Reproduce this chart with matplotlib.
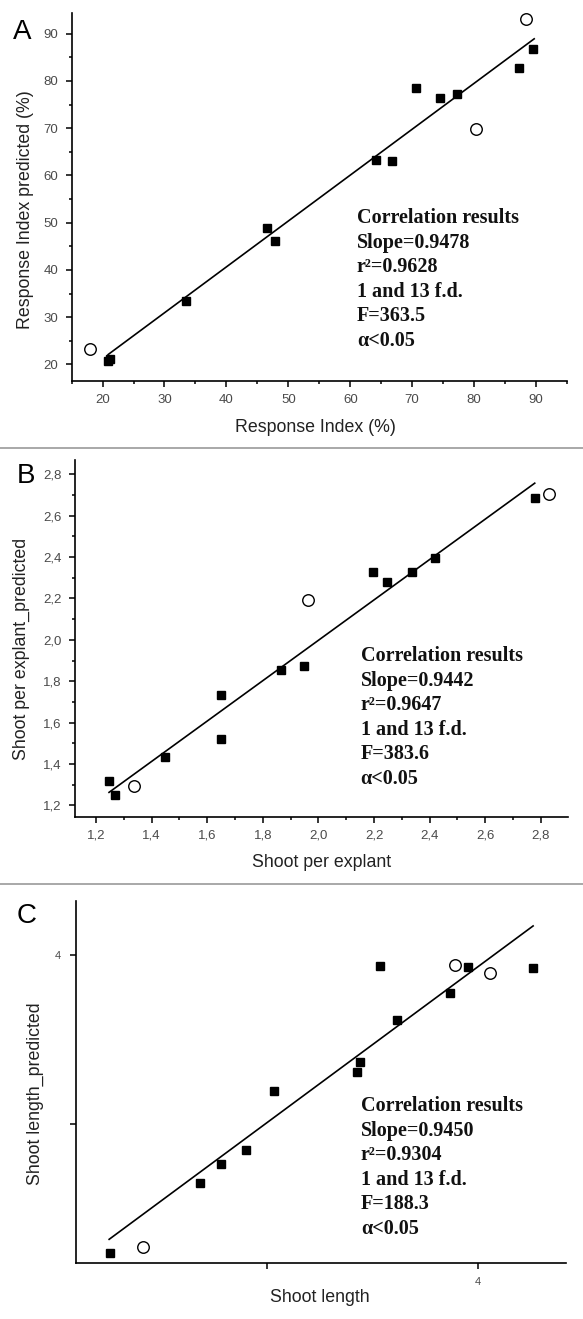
import matplotlib
matplotlib.use("Agg")
import matplotlib.pyplot as plt
from matplotlib.ticker import MultipleLocator, FixedLocator, FuncFormatter
from matplotlib.lines import Line2D

# ---------------- data ----------------
# Panel A
a_fill_x = [20.8, 21.2, 33.4, 46.6, 47.8, 64.2, 66.7, 70.6, 74.5, 77.2, 87.3, 89.5]
a_fill_y = [20.7, 21.1, 33.4, 48.9, 46.2, 63.3, 63.1, 78.6, 76.4, 77.3, 82.7, 86.8]
a_open_x = [17.9, 80.3, 88.4]
a_open_y = [23.3, 69.9, 93.1]
a_line_x = [20.9, 89.7]
a_line_y = [22.1, 88.9]
a_text = ["Correlation results", "Slope=0.9478", "r\u00b2=0.9628",
          "1 and 13 f.d.", "F=363.5", "\u03b1<0.05"]

# Panel B
b_fill_x = [1.247, 1.270, 1.447, 1.648, 1.648, 1.867, 1.948, 2.198, 2.246, 2.337, 2.418, 2.778]
b_fill_y = [1.318, 1.250, 1.435, 1.734, 1.520, 1.853, 1.872, 2.326, 2.278, 2.329, 2.397, 2.684]
b_open_x = [1.336, 1.962, 2.831]
b_open_y = [1.296, 2.193, 2.703]
b_line_x = [1.247, 2.778]
b_line_y = [1.263, 2.757]
b_text = ["Correlation results", "Slope=0.9442", "r\u00b2=0.9647",
          "1 and 13 f.d.", "F=383.6", "\u03b1<0.05"]

# Panel C
c_fill_x = [2.251, 2.681, 2.779, 2.897, 3.030, 3.425, 3.439, 3.536, 3.618, 3.867, 3.954, 4.264]
c_fill_y = [2.242, 2.655, 2.764, 2.846, 3.195, 3.309, 3.368, 3.935, 3.614, 3.778, 3.927, 3.923]
c_open_x = [2.411, 3.892, 4.057]
c_open_y = [2.274, 3.941, 3.896]
c_line_x = [2.248, 4.264]
c_line_y = [2.321, 4.171]
c_text = ["Correlation results", "Slope=0.9450", "r\u00b2=0.9304",
          "1 and 13 f.d.", "F=188.3", "\u03b1<0.05"]
c_ticks = [3, 4]
c_ticklabels = ["", "4"]

# ---------------- figure ----------------
W, H = 583, 1319
fig = plt.figure(figsize=(W / 100, H / 100), dpi=100)
sans = "Liberation Sans"
serif = "Liberation Serif"
tick_color = "#4a4a4a"
label_color = "#222222"


def style_axes(ax, labelsize=9.5, xpad=5, ypad=5.5):
    for s in ("top", "right"):
        ax.spines[s].set_visible(False)
    for s in ("left", "bottom"):
        ax.spines[s].set_linewidth(1.2)
        ax.spines[s].set_color("black")
    ax.tick_params(which="major", direction="out", length=4.3, width=1.1,
                   color="black", labelcolor=tick_color, labelsize=labelsize)
    ax.tick_params(axis="x", which="major", pad=xpad)
    ax.tick_params(axis="y", which="major", pad=ypad)
    ax.tick_params(which="minor", direction="out", length=2.5, width=1.1, color="black")
    for lab in ax.get_xticklabels() + ax.get_yticklabels():
        lab.set_fontfamily(sans)


def draw(ax, fx, fy, ox, oy, lx, ly, text, tx, ty):
    ax.plot(lx, ly, color="black", lw=1.2, zorder=2)
    ax.plot(fx, fy, ls="none", marker="s", ms=5.6, mfc="black", mec="black", zorder=3)
    ax.plot(ox, oy, ls="none", marker="o", ms=8.3, mfc="white", mec="black", mew=1.0, zorder=3)
    ax.text(tx, ty, "\n".join(text), transform=ax.transAxes, ha="left", va="top",
            fontfamily=serif, fontweight="bold", fontsize=14.5, linespacing=1.3,
            color="#111111")


def pos(l, r, top, bot):
    return [l / W, 1 - bot / H, (r - l) / W, (bot - top) / H]


LABEL_FS = 12.8

# Panel A
axA = fig.add_axes(pos(71.6, 567, 13.3, 381))
draw(axA, a_fill_x, a_fill_y, a_open_x, a_open_y, a_line_x, a_line_y, a_text, 0.576, 0.470)
axA.set_xlim(15, 95)
axA.set_ylim(16.5, 94.3)
axA.xaxis.set_major_locator(MultipleLocator(10))
axA.xaxis.set_minor_locator(MultipleLocator(5))
axA.yaxis.set_major_locator(MultipleLocator(10))
axA.yaxis.set_minor_locator(MultipleLocator(5))
style_axes(axA)
axA.set_xlabel("Response Index (%)", fontfamily=sans, fontsize=LABEL_FS, color=label_color)
axA.set_ylabel("Response Index predicted (%)", fontfamily=sans, fontsize=LABEL_FS, color=label_color)
axA.xaxis.set_label_coords(0.4925, -0.104)
axA.yaxis.set_label_coords(-0.075, 0.466)

# Panel B
axB = fig.add_axes(pos(75.1, 568.1, 460, 817))
draw(axB, b_fill_x, b_fill_y, b_open_x, b_open_y, b_line_x, b_line_y, b_text, 0.579, 0.478)
axB.set_xlim(1.125, 2.898)
axB.set_ylim(1.144, 2.869)
comma = FuncFormatter(lambda v, p: f"{v:.1f}".replace(".", ","))
axB.xaxis.set_major_locator(MultipleLocator(0.2))
axB.xaxis.set_minor_locator(MultipleLocator(0.1))
axB.yaxis.set_major_locator(MultipleLocator(0.2))
axB.yaxis.set_minor_locator(MultipleLocator(0.1))
axB.xaxis.set_major_formatter(comma)
axB.yaxis.set_major_formatter(comma)
style_axes(axB)
axB.set_xlabel("Shoot per explant", fontfamily=sans, fontsize=LABEL_FS, color=label_color)
axB.set_ylabel("Shoot per explant_predicted", fontfamily=sans, fontsize=LABEL_FS, color=label_color)
axB.xaxis.set_label_coords(0.499, -0.104)
axB.yaxis.set_label_coords(-0.092, 0.47)

# Panel C
axC = fig.add_axes(pos(75.5, 565.9, 900.7, 1262.7))
draw(axC, c_fill_x, c_fill_y, c_open_x, c_open_y, c_line_x, c_line_y, c_text, 0.582, 0.460)
axC.set_xlim(2.088, 4.42)
axC.set_ylim(2.183, 4.32)
axC.xaxis.set_major_locator(FixedLocator(c_ticks))
axC.yaxis.set_major_locator(FixedLocator(c_ticks))
axC.set_xticklabels(c_ticklabels)
axC.set_yticklabels(c_ticklabels)
style_axes(axC, labelsize=8, xpad=6, ypad=6)
axC.set_xlabel("Shoot length", fontfamily=sans, fontsize=LABEL_FS, color=label_color)
axC.set_ylabel("Shoot length_predicted", fontfamily=sans, fontsize=LABEL_FS, color=label_color)
axC.xaxis.set_label_coords(0.499, -0.072)
axC.yaxis.set_label_coords(-0.064, 0.468)

# Panel letters
for letter, x, yb in (("A", 13.3, 39.3), ("B", 16.7, 483.3), ("C", 16.7, 922.7)):
    fig.text(x / W, 1 - yb / H, letter, fontfamily=sans, fontsize=20,
             ha="left", va="baseline", color="black")

# Separators
for yy in (448, 884):
    fig.add_artist(Line2D([0, 1], [1 - yy / H, 1 - yy / H], transform=fig.transFigure,
                          color="#9a9a9a", lw=1.2))

fig.savefig("out.png", dpi=100, facecolor="white")
